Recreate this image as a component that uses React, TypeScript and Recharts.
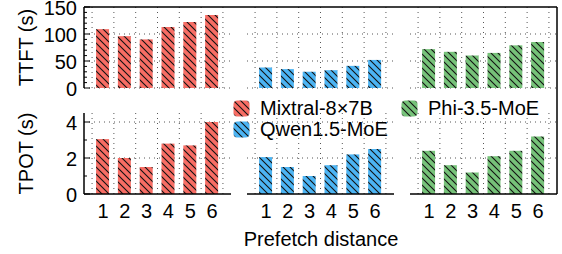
import { BarChart, Bar, XAxis, YAxis, CartesianGrid } from 'recharts'

const distances = [1, 2, 3, 4, 5, 6]
const models = ['Mixtral-8×7B', 'Qwen1.5-MoE', 'Phi-3.5-MoE']
const colors = ['#F76D64', '#4CB4F3', '#76C279']

const ttftMixtral = [109, 96, 90, 113, 122, 135]
const ttftQwen = [38, 35, 30, 33, 41, 52]
const ttftPhi = [72, 67, 60, 65, 79, 85]

const tpotMixtral = [3.05, 2.0, 1.5, 2.8, 2.7, 4.0]
const tpotQwen = [2.05, 1.5, 1.0, 1.6, 2.2, 2.5]
const tpotPhi = [2.4, 1.6, 1.2, 2.1, 2.4, 3.2]

const ttftTicks = [0, 10, 20, 30, 40, 50, 60, 70, 80, 90, 100, 110, 120, 130, 140, 150]
const ttftMajor = [0, 50, 100, 150]
const tpotTicks = [0, 1, 2, 3, 4]
const tpotMajor = [0, 2, 4]
const bandEdges = [0.5, 1.5, 2.5, 3.5, 4.5, 5.5, 6.5]

const FONT = '"Liberation Sans", Arial, Helvetica, sans-serif'
const PLOT_LEFT = 84
const PLOT_W = 147
const GAP = 16
const PLOT_H = 81
const YAXIS_W = 80

const makeTick = (major: number[]) => (props: any) => {
  const { x, y, payload } = props
  const isMajor = major.includes(payload.value)
  return (
    <g>
      <line x1={x} x2={x + (isMajor ? 6 : 3)} y1={y} y2={y} stroke="#000" strokeWidth={1} />
      {isMajor && (
        <text x={x - 7} y={y} dy="0.4em" textAnchor="end" fontSize={20} fontFamily={FONT} fill="#000">
          {payload.value}
        </text>
      )}
    </g>
  )
}

interface PanelProps {
  values: number[]
  color: string
  id: string
  index: number
  top: number
  marginTop: number
  showX: boolean
  yMax: number
  ticks: number[]
  major: number[]
  gridY: number[]
}

function Panel({ values, color, id, index, top, marginTop, showX, yMax, ticks, major, gridY }: PanelProps) {
  const data = distances.map((d, i) => ({ d, v: values[i] }))
  const first = index === 0
  const left = PLOT_LEFT + index * (PLOT_W + GAP) - (first ? YAXIS_W : 0)
  const width = PLOT_W + (first ? YAXIS_W : 0)
  const xH = showX ? 30 : 12
  const height = marginTop + PLOT_H + xH
  return (
    <div style={{ position: 'absolute', left, top }}>
      <BarChart width={width} height={height} data={data}
        margin={{ top: marginTop, right: 0, left: 0, bottom: showX ? 0 : xH }}>
        <defs>
          <pattern id={id} patternUnits="userSpaceOnUse" width={7} height={7}>
            <rect width={7} height={7} fill={color} />
            <path d="M0,0 L7,7 M-1,6 L1,8 M6,-1 L8,1" stroke="#111" strokeWidth={1.1} />
          </pattern>
        </defs>
        <CartesianGrid stroke="#555" strokeDasharray="1 4"
          verticalValues={bandEdges} horizontalValues={gridY} />
        <XAxis dataKey="d" type="number" domain={[0.13, 6.87]} allowDataOverflow
          ticks={distances} interval={0} hide={!showX} height={xH}
          tickLine={false} axisLine={{ stroke: '#000', strokeWidth: 1.5 }}
          tick={{ fontSize: 20, fontFamily: FONT, fill: '#000' }} tickMargin={4} />
        <YAxis type="number" domain={[0, yMax]} allowDataOverflow ticks={ticks} interval={0}
          hide={!first} width={YAXIS_W} tickSize={0} tickMargin={0} tickLine={false}
          axisLine={{ stroke: '#000', strokeWidth: 1.5 }} tick={makeTick(major)} />
        <Bar dataKey="v" fill={`url(#${id})`} barSize={13} isAnimationActive={false} />
      </BarChart>
    </div>
  )
}

function Swatch({ color, id }: { color: string; id: string }) {
  return (
    <svg width={17} height={17} style={{ display: 'block' }}>
      <defs>
        <pattern id={id} patternUnits="userSpaceOnUse" width={7} height={7}>
          <rect width={7} height={7} fill={color} />
          <path d="M0,0 L7,7 M-1,6 L1,8 M6,-1 L8,1" stroke="#111" strokeWidth={1.1} />
        </pattern>
      </defs>
      <rect x={0.5} y={0.5} width={16} height={16} rx={4} fill={`url(#${id})`} />
    </svg>
  )
}

export default function App() {
  const ttft = [ttftMixtral, ttftQwen, ttftPhi]
  const tpot = [tpotMixtral, tpotQwen, tpotPhi]
  const rightX = PLOT_LEFT + 3 * PLOT_W + 2 * GAP
  const legendItems = [
    { i: 0, left: 233, top: 97 },
    { i: 1, left: 233, top: 118 },
    { i: 2, left: 401, top: 97 },
  ]
  return (
    <div style={{ position: 'absolute', left: 0, top: 0, width: 562, height: 254, background: '#fff', fontFamily: FONT }}>
      {ttft.map((vals, i) => (
        <Panel key={`t${i}`} values={vals} color={colors[i]} id={`hatch-t${i}`} index={i}
          top={0} marginTop={7} showX={false} yMax={150} ticks={ttftTicks} major={ttftMajor} gridY={[0, 50, 100]} />
      ))}
      {tpot.map((vals, i) => (
        <Panel key={`p${i}`} values={vals} color={colors[i]} id={`hatch-p${i}`} index={i}
          top={103} marginTop={10} showX={true} yMax={4.5} ticks={tpotTicks} major={tpotMajor} gridY={[2, 4]} />
      ))}
      {legendItems.map(({ i, left, top }) => (
        <div key={models[i]} style={{ position: 'absolute', left, top, display: 'flex', alignItems: 'center', height: 22 }}>
          <Swatch color={colors[i]} id={`hatch-l${i}`} />
          <span style={{ marginLeft: 10, fontSize: 20, lineHeight: '22px', color: '#000' }}>{models[i]}</span>
        </div>
      ))}
      <svg width={562} height={254} style={{ position: 'absolute', left: 0, top: 0, pointerEvents: 'none' }}>
        <line x1={PLOT_LEFT} x2={rightX} y1={7} y2={7} stroke="#000" strokeWidth={1.5} />
        <line x1={rightX} x2={rightX} y1={7} y2={194} stroke="#000" strokeWidth={1.5} />
        <text transform="translate(33,47.5) rotate(-90)" textAnchor="middle" fontSize={20} fontFamily={FONT} fill="#000">TTFT (s)</text>
        <text transform="translate(33,153.5) rotate(-90)" textAnchor="middle" fontSize={20} fontFamily={FONT} fill="#000">TPOT (s)</text>
        <text x={321} y={246} textAnchor="middle" fontSize={20} fontFamily={FONT} fill="#000">Prefetch distance</text>
      </svg>
    </div>
  )
}
